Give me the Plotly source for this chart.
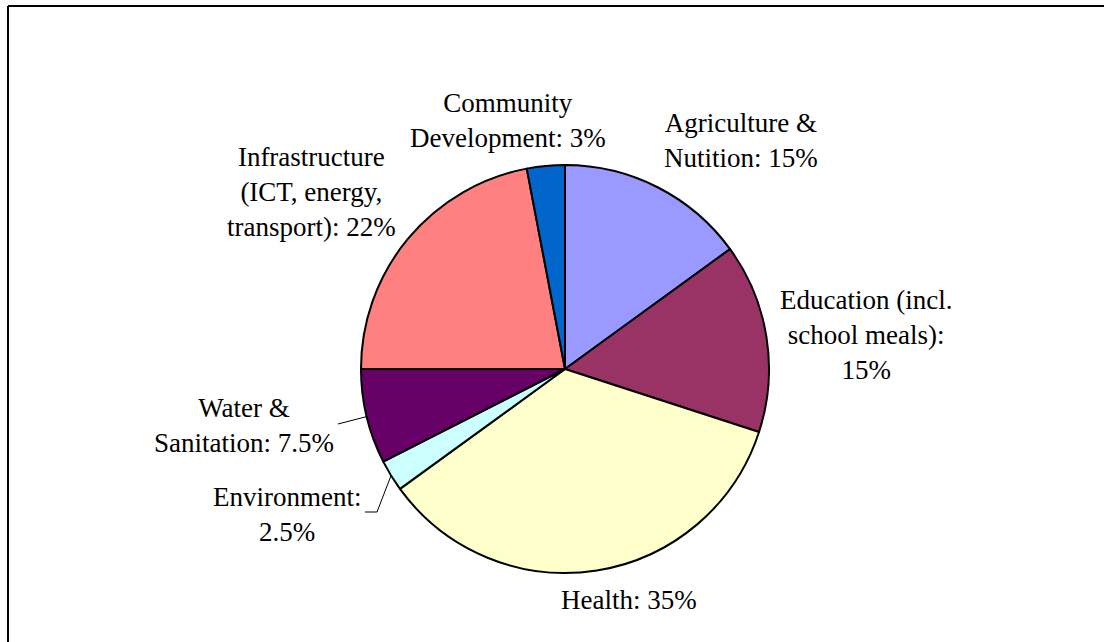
import math
import plotly.graph_objects as go

# ---------------- data ----------------
categories = [
    "Agriculture & Nutition",
    "Education (incl. school meals)",
    "Health",
    "Environment",
    "Water & Sanitation",
    "Infrastructure (ICT, energy, transport)",
    "Community Development",
]
shares = [15, 15, 35, 2.5, 7.5, 22, 3]
label_names = [
    "Agriculture &<br>Nutition",
    "Education (incl.<br>school meals)",
    "Health",
    "Environment",
    "Water &<br>Sanitation",
    "Infrastructure<br>(ICT, energy,<br>transport)",
    "Community<br>Development",
]
label_value_break = [False, True, False, True, False, False, False]
colors = ["#9999FF", "#993366", "#FFFFCC", "#CCFFFF", "#660066", "#FF8080", "#0066CC"]

# ---------------- layout constants ----------------
W, H = 1104, 642
CX, CY, R = 565, 369, 204  # pie centre / radius in px
FONT = "Liberation Serif"
FS = 27

# label block centres (px)
label_pos = [(741, 141), (866, 335), (629, 600), (287, 514), (244, 425), (311, 192), (508, 121)]
# leader lines: label-side points (px) for slices with leader lines
leaders = {3: [(365, 512), (377, 512)], 4: [(338, 424)]}


def px(x):
    return x / W


def py(y):
    return 1 - y / H


fig = go.Figure(
    go.Pie(
        labels=categories,
        values=shares,
        sort=False,
        direction="clockwise",
        rotation=0,
        textinfo="none",
        hoverinfo="label+percent",
        marker=dict(colors=colors, line=dict(color="black", width=2)),
        domain=dict(x=[px(CX - R), px(CX + R)], y=[py(CY + R), py(CY - R)]),
        showlegend=False,
    )
)

annotations = []
for name, v, brk, (lx, ly) in zip(label_names, shares, label_value_break, label_pos):
    text = f"{name}:{'<br>' if brk else ' '}{v:g}%"
    annotations.append(
        dict(
            x=px(lx), y=py(ly), xref="paper", yref="paper", text=text,
            showarrow=False, xanchor="center", yanchor="middle", align="center",
            font=dict(family=FONT, size=FS, color="black"),
        )
    )

shapes = [
    dict(type="line", xref="paper", yref="paper", x0=px(8), y0=py(6), x1=px(W + 10), y1=py(6),
         line=dict(color="black", width=2)),
    dict(type="line", xref="paper", yref="paper", x0=px(8), y0=py(6), x1=px(8), y1=py(H + 10),
         line=dict(color="black", width=2)),
]

total = sum(shares)
cum = 0
mids = []
for v in shares:
    mids.append((cum + v / 2) / total * 2 * math.pi)
    cum += v

for idx, pts in leaders.items():
    a = mids[idx]
    ex, ey = CX + R * math.sin(a), CY - R * math.cos(a)
    path_pts = pts + [(ex, ey)]
    d = "M " + " L ".join(f"{px(x)},{py(y)}" for x, y in path_pts)
    shapes.append(dict(type="path", xref="paper", yref="paper", path=d,
                       line=dict(color="black", width=1)))

fig.update_layout(
    width=W, height=H,
    margin=dict(l=0, r=0, t=0, b=0),
    paper_bgcolor="white", plot_bgcolor="white",
    annotations=annotations, shapes=shapes,
)

fig.write_html("out.html")
